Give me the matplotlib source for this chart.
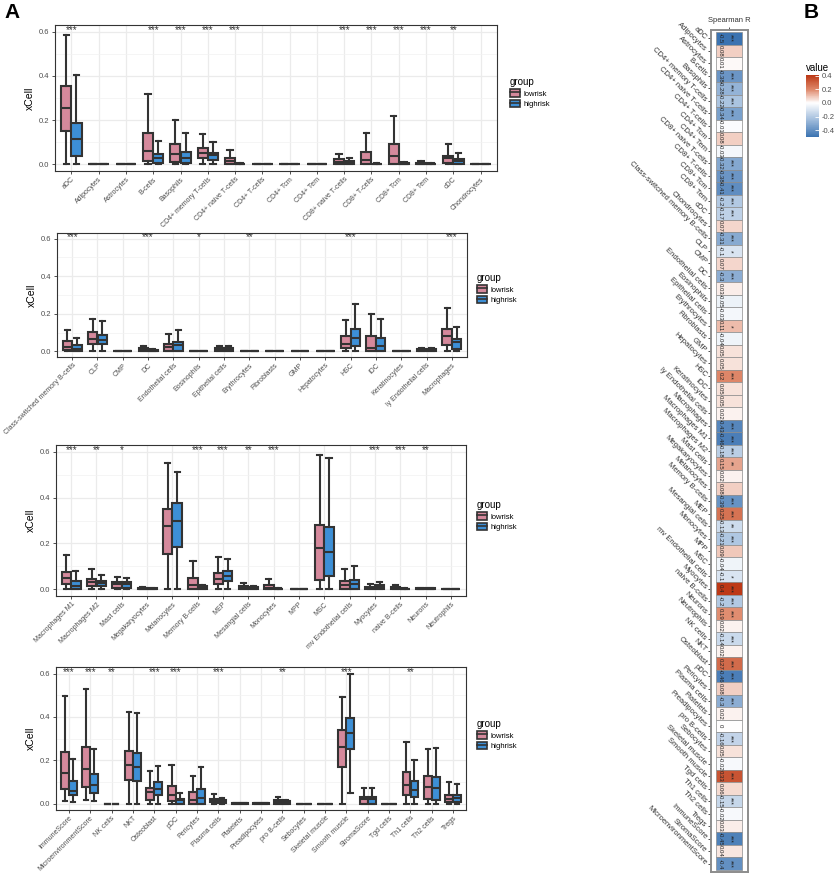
import numpy as np
import matplotlib
matplotlib.use("Agg")
import matplotlib.pyplot as plt
from matplotlib.colors import LinearSegmentedColormap, Normalize
from matplotlib.cm import ScalarMappable
from matplotlib.patches import Patch
from matplotlib.lines import Line2D
from matplotlib.legend_handler import HandlerTuple

plt.rcParams['font.family'] = ['Liberation Sans', 'DejaVu Sans']

# box stats are (whislo, q1, med, q3, whishi)
Z = (0, 0, 0, 0, 0)

p1_cats = ["aDC", "Adipocytes", "Astrocytes", "B-cells", "Basophils", "CD4+ memory T-cells",
           "CD4+ naive T-cells", "CD4+ T-cells", "CD4+ Tcm", "CD4+ Tem", "CD8+ naive T-cells",
           "CD8+ T-cells", "CD8+ Tcm", "CD8+ Tem", "cDC", "Chondrocytes"]
p1_low = [(0, 0.15, 0.253, 0.353, 0.583), Z, Z, (0, 0.015, 0.06, 0.143, 0.316),
          (0, 0.01, 0.045, 0.09, 0.2), (0, 0.027, 0.05, 0.075, 0.137), (0, 0, 0.015, 0.03, 0.065),
          Z, Z, Z, (0, 0, 0.01, 0.022, 0.045), (0, 0, 0.02, 0.057, 0.14), (0, 0, 0.04, 0.09, 0.22),
          (0, 0, 0.003, 0.008, 0.015), (0, 0.005, 0.027, 0.04, 0.09), Z]
p1_high = [(0, 0.038, 0.113, 0.188, 0.403), Z, Z, (0, 0.005, 0.028, 0.045, 0.105),
           (0, 0.005, 0.027, 0.057, 0.14), (0, 0.02, 0.042, 0.053, 0.1), (0, 0, 0.001, 0.002, 0.004),
           Z, Z, Z, (0, 0, 0.005, 0.015, 0.03), (0, 0, 0.001, 0.002, 0.004), (0, 0, 0.002, 0.006, 0.012),
           (0, 0, 0.001, 0.002, 0.004), (0, 0, 0.013, 0.022, 0.053), Z]
p1_sig = ["***", "", "", "***", "***", "***", "***", "", "", "", "***", "***", "***", "***", "**", ""]

p2_cats = ["Class-switched memory B-cells", "CLP", "CMP", "DC", "Endothelial cells", "Eosinophils",
           "Epithelial cells", "Erythrocytes", "Fibroblasts", "GMP", "Hepatocytes", "HSC", "iDC",
           "Keratinocytes", "ly Endothelial cells", "Macrophages"]
p2_low = [(0, 0.005, 0.025, 0.055, 0.115), (0, 0.037, 0.065, 0.103, 0.17), Z,
          (0, 0, 0.009, 0.018, 0.03), (0, 0, 0.025, 0.04, 0.09), Z, (0, 0, 0.009, 0.018, 0.027),
          Z, Z, Z, Z, (0, 0.018, 0.04, 0.08, 0.165), (0, 0, 0.02, 0.082, 0.2), Z,
          (0, 0, 0.005, 0.015, 0.018), (0, 0.035, 0.08, 0.12, 0.23)]
p2_high = [(0, 0, 0.015, 0.032, 0.07), (0, 0.037, 0.058, 0.088, 0.16), Z,
           (0, 0, 0.003, 0.008, 0.013), (0, 0, 0.033, 0.05, 0.115), Z, (0, 0, 0.008, 0.016, 0.028),
           Z, Z, Z, Z, (0, 0.027, 0.07, 0.12, 0.253), (0, 0, 0.03, 0.073, 0.17), Z,
           (0, 0, 0.005, 0.015, 0.018), (0, 0.015, 0.05, 0.067, 0.13)]
p2_sig = ["***", "", "", "***", "", "*", "", "**", "", "", "", "***", "", "", "", "***"]

p3_cats = ["Macrophages M1", "Macrophages M2", "Mast cells", "Megakaryocytes", "Melanocytes",
           "Memory B-cells", "MEP", "Mesangial cells", "Monocytes", "MPP", "MSC",
           "mv Endothelial cells", "Myocytes", "naive B-cells", "Neurons", "Neutrophils"]
p3_low = [(0, 0.022, 0.05, 0.075, 0.149), (0, 0.014, 0.033, 0.046, 0.09), (0, 0.007, 0.022, 0.032, 0.053),
          (0, 0, 0.002, 0.006, 0.009), (0, 0.152, 0.275, 0.35, 0.552), (0, 0, 0.019, 0.05, 0.123),
          (0, 0.022, 0.043, 0.069, 0.14), (0, 0, 0.005, 0.012, 0.026), (0, 0, 0.007, 0.02, 0.043), Z,
          (0, 0.04, 0.18, 0.282, 0.585), (0, 0, 0.019, 0.036, 0.087), (0, 0, 0.005, 0.01, 0.022),
          (0, 0, 0.004, 0.01, 0.017), (0, 0, 0.002, 0.004, 0.006), Z]
p3_high = [(0, 0, 0.014, 0.036, 0.08), (0, 0.012, 0.026, 0.036, 0.062), (0, 0.007, 0.022, 0.032, 0.048),
           (0, 0, 0.002, 0.004, 0.006), (0, 0.185, 0.296, 0.376, 0.513), (0, 0, 0.005, 0.012, 0.02),
           (0, 0.036, 0.058, 0.08, 0.133), (0, 0, 0.003, 0.008, 0.012), (0, 0, 0.001, 0.002, 0.004), Z,
           (0, 0.058, 0.162, 0.27, 0.574), (0, 0, 0.022, 0.04, 0.1), (0, 0, 0.008, 0.017, 0.032),
           (0, 0, 0.001, 0.002, 0.004), (0, 0, 0.002, 0.004, 0.006), Z]
p3_sig = ["***", "**", "*", "", "", "***", "***", "**", "***", "", "", "", "***", "***", "**", ""]

p4_cats = ["ImmuneScore", "MicroenvironmentScore", "NK cells", "NKT", "Osteoblast", "pDC", "Pericytes",
           "Plasma cells", "Platelets", "Preadipocytes", "pro B-cells", "Sebocytes", "Skeletal muscle",
           "Smooth muscle", "StromaScore", "Tgd cells", "Th1 cells", "Th2 cells", "Tregs"]
p4_low = [(0.011, 0.067, 0.14, 0.24, 0.497), (0.018, 0.075, 0.16, 0.26, 0.527), Z,
          (0, 0.11, 0.179, 0.243, 0.424), (0, 0.018, 0.052, 0.072, 0.152), (0, 0.012, 0.04, 0.083, 0.179),
          (0, 0, 0.015, 0.054, 0.125), (0, 0.005, 0.014, 0.023, 0.043), (0, 0, 0.001, 0.002, 0.003),
          (0, 0, 0.001, 0.002, 0.003), (0, 0, 0.006, 0.015, 0.031), Z, Z,
          (0, 0.167, 0.263, 0.34, 0.493), (0, 0, 0.02, 0.029, 0.07), Z,
          (0, 0.041, 0.085, 0.144, 0.285), (0, 0.021, 0.077, 0.125, 0.252), (0, 0.005, 0.021, 0.041, 0.098)]
p4_high = [(0.006, 0.037, 0.06, 0.106, 0.205), (0.012, 0.047, 0.087, 0.138, 0.252), Z,
           (0, 0.103, 0.167, 0.233, 0.416), (0, 0.038, 0.069, 0.098, 0.171), (0, 0, 0.014, 0.021, 0.047),
           (0, 0, 0.026, 0.067, 0.167), (0, 0.004, 0.011, 0.015, 0.026), (0, 0, 0.001, 0.002, 0.003),
           (0, 0, 0.001, 0.002, 0.003), (0, 0, 0.004, 0.012, 0.014), Z, Z,
           (0.049, 0.251, 0.325, 0.396, 0.598), (0, 0, 0.021, 0.032, 0.073), Z,
           (0, 0.029, 0.064, 0.103, 0.202), (0, 0.018, 0.072, 0.121, 0.256), (0, 0.006, 0.026, 0.041, 0.092)]
p4_sig = ["***", "***", "**", "", "***", "***", "", "***", "", "", "**", "", "", "***", "", "", "**", "", ""]

groups = ["lowrisk", "highrisk"]

# heatmap (panel B)
hm_cells = ["aDC", "Adipocytes", "Astrocytes", "B-cells", "Basophils", "CD4+ memory T-cells",
            "CD4+ naive T-cells", "CD4+ T-cells", "CD4+ Tcm", "CD4+ Tem", "CD8+ naive T-cells",
            "CD8+ T-cells", "CD8+ Tcm", "CD8+ Tem", "cDC", "Chondrocytes", "Class-switched memory B-cells",
            "CLP", "CMP", "DC", "Endothelial cells", "Eosinophils", "Epithelial cells", "Erythrocytes",
            "Fibroblasts", "GMP", "Hepatocytes", "HSC", "iDC", "Keratinocytes", "ly Endothelial cells",
            "Macrophages", "Macrophages M1", "Macrophages M2", "Mast cells", "Megakaryocytes",
            "Melanocytes", "Memory B-cells", "MEP", "Mesangial cells", "Monocytes", "MPP", "MSC",
            "mv Endothelial cells", "Myocytes", "naive B-cells", "Neurons", "Neutrophils", "NK cells",
            "NKT", "Osteoblast", "pDC", "Pericytes", "Plasma cells", "Platelets", "Preadipocytes",
            "pro B-cells", "Sebocytes", "Skeletal muscle", "Smooth muscle", "Tgd cells", "Th1 cells",
            "Th2 cells", "Tregs", "ImmuneScore", "StromaScore", "MicroenvironmentScore"]
hm_r = [-0.5, 0.08, 0.01, -0.38, -0.28, -0.22, -0.34, -0.01, 0.08, -0.03, -0.32, -0.38, -0.41, -0.2,
        -0.17, 0.07, -0.31, -0.1, 0.07, -0.3, 0.03, -0.05, -0.03, 0.11, -0.04, 0.05, 0.05, 0.2, 0.05,
        0.05, 0.02, -0.43, -0.46, -0.18, 0.15, 0.02, 0.08, -0.39, 0.25, -0.13, -0.21, 0.09, -0.04, -0.1,
        0.4, -0.2, 0.19, 0.02, -0.14, 0.02, 0.27, -0.46, 0.08, -0.3, 0.02, 0, -0.16, 0.05, -0.02, 0.33,
        0.06, -0.15, -0.02, 0.03, -0.45, 0.04, -0.4]
hm_sig = ["***", "", "", "***", "***", "***", "***", "", "", "", "***", "***", "***", "***", "***", "",
          "***", "*", "", "***", "", "", "", "*", "", "", "", "***", "", "", "", "***", "***", "***",
          "**", "", "", "***", "***", "**", "***", "", "", "*", "***", "***", "***", "", "***", "",
          "***", "***", "", "***", "", "", "***", "", "", "***", "", "***", "", "", "***", "", "***"]

W, H = 837, 873
LOW_COL, HIGH_COL, DARK = "#D5899C", "#3D8FD6", "#333333"


def rect(l, t, r, b):
    return [l / W, 1 - b / H, (r - l) / W, (b - t) / H]


def box_panel(ax, cats, low, high, sig, legend_xy):
    n = len(cats)
    pos = np.arange(1, n + 1)
    for stats, off, col in [(low, -0.1875, LOW_COL), (high, 0.1875, HIGH_COL)]:
        bx = [dict(whislo=s[0], q1=s[1], med=s[2], q3=s[3], whishi=s[4], fliers=[]) for s in stats]
        ax.bxp(bx, positions=pos + off, widths=0.37, patch_artist=True, showfliers=False,
               capwidths=0.2, manage_ticks=False,
               boxprops=dict(facecolor=col, edgecolor=DARK, linewidth=1.5),
               medianprops=dict(color=DARK, linewidth=1.5),
               whiskerprops=dict(color=DARK, linewidth=1.5),
               capprops=dict(color=DARK, linewidth=1.5))
    for x, s in zip(pos, sig):
        if s:
            ax.text(x, 0.608, s, ha="center", va="center", fontsize=7, color=DARK, clip_on=True)
    ax.set_xlim(0.4, n + 0.6)
    ax.set_ylim(-0.03, 0.63)
    ax.set_xticks(pos)
    ax.set_xticklabels(cats, rotation=45, ha="right", rotation_mode="anchor", fontsize=5.0, color="#4D4D4D")
    ax.set_yticks([0, 0.2, 0.4, 0.6])
    ax.set_yticklabels(["0.0", "0.2", "0.4", "0.6"], fontsize=5.5, color="#4D4D4D")
    ax.set_yticks([0.1, 0.3, 0.5], minor=True)
    ax.tick_params(axis="y", which="minor", length=0)
    ax.tick_params(which="major", length=2.5, width=0.6, color=DARK, pad=1.5)
    ax.tick_params(axis="x", pad=1)
    ax.grid(which="major", color="#EBEBEB", linewidth=0.9)
    ax.grid(which="minor", axis="y", color="#F2F2F2", linewidth=0.5)
    ax.set_axisbelow(True)
    for sp in ax.spines.values():
        sp.set_color(DARK)
        sp.set_linewidth(0.8)
    ax.set_ylabel("xCell", fontsize=7.5, labelpad=3)
    handles = [(Patch(facecolor=c, edgecolor=DARK, linewidth=1.2), Line2D([], [], color=DARK, lw=1.2))
               for c in (LOW_COL, HIGH_COL)]
    ax.legend(handles, groups, title="group", loc="upper left",
              bbox_to_anchor=(legend_xy[0] / W, 1 - legend_xy[1] / H), bbox_transform=fig.transFigure,
              frameon=False, fontsize=5.5, title_fontsize=7, alignment="left",
              handler_map={tuple: HandlerTuple(ndivide=1)}, handlelength=1.3, handleheight=1.1,
              handletextpad=0.5, labelspacing=0.3, borderpad=0, borderaxespad=0)


fig = plt.figure(figsize=(W / 100, H / 100), dpi=100)

box_panel(fig.add_axes(rect(55, 25, 497, 171)), p1_cats, p1_low, p1_high, p1_sig, (510, 77))
box_panel(fig.add_axes(rect(57, 233, 467, 357)), p2_cats, p2_low, p2_high, p2_sig, (477, 273))
box_panel(fig.add_axes(rect(56, 445, 466, 596)), p3_cats, p3_low, p3_high, p3_sig, (477, 500))
box_panel(fig.add_axes(rect(56, 667, 466, 810)), p4_cats, p4_low, p4_high, p4_sig, (477, 719))

# panel B heatmap
cmap = LinearSegmentedColormap.from_list(
    "rb", [(0.0, "#3B73B1"), (0.25, "#A0BCDC"), (0.5, "#FFFFFF"), (0.7, "#DE8769"),
           (0.9, "#BD3A17"), (1.0, "#A81E00")])
norm = Normalize(-0.5, 0.5)

axh = fig.add_axes(rect(711, 30, 748, 872))
ny = len(hm_cells)
ys = np.arange(1, ny + 1)
axh.barh(ys, width=1, left=0.5, height=1, color=cmap(norm(np.array(hm_r))),
         edgecolor="#8C8C8C", linewidth=0.5)


def fmt(v):
    s = f"{v:.2f}".rstrip("0").rstrip(".")
    return "0" if s in ("-0", "") else s


for y, v, s in zip(ys, hm_r, hm_sig):
    axh.text(0.66, y, fmt(v), rotation=-90, ha="center", va="center", fontsize=4.3, color="#222222")
    if s:
        axh.text(1.02, y, s, rotation=-90, ha="center", va="center", fontsize=5, color="#222222")
axh.set_xlim(0.3, 1.72)
axh.set_ylim(ny + 0.66, 0.34)
axh.set_yticks(ys)
axh.set_yticklabels(hm_cells, rotation=-45, ha="right", va="center", rotation_mode="anchor",
                    fontsize=5.5, color="#333333")
axh.xaxis.tick_top()
axh.set_xticks([1])
axh.set_xticklabels(["Spearman R"], fontsize=5.5, color="#333333")
axh.tick_params(length=2.5, width=0.6, color=DARK, pad=1.5)
for sp in axh.spines.values():
    sp.set_color("#8C8C8C")
    sp.set_linewidth(1.4)

cax = fig.add_axes(rect(806, 75, 819, 137))
cb = fig.colorbar(ScalarMappable(norm=norm, cmap=cmap), cax=cax,
                  boundaries=np.linspace(-0.5, 0.41, 200))
cb.outline.set_visible(False)
cb.set_ticks([-0.4, -0.2, 0.0, 0.2, 0.4])
cb.set_ticklabels(["-0.4", "-0.2", "0.0", "0.2", "0.4"])
cax.tick_params(length=3, width=0.6, color="white", direction="in", labelsize=5.5, labelcolor="#4D4D4D", pad=2)
fig.text(806 / W, 1 - 63 / H, "value", fontsize=7, ha="left", va="top")

fig.text(4 / W, 1 - 3 / H, "A", fontsize=15, fontweight="bold", ha="left", va="top")
fig.text(804 / W, 1 - 3 / H, "B", fontsize=15, fontweight="bold", ha="left", va="top")

fig.savefig("out.png", dpi=100)
